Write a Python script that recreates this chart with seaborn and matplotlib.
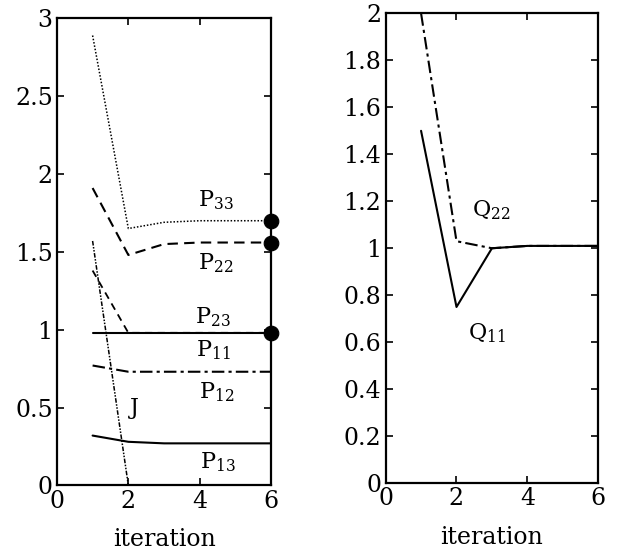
import matplotlib
matplotlib.use("Agg")
import matplotlib.pyplot as plt
import seaborn as sns
import pandas as pd

sns.set_theme(style="white")
plt.rcParams["font.family"] = ["DejaVu Serif"]
plt.rcParams["mathtext.fontset"] = "dejavuserif"
plt.rcParams["text.color"] = "black"
plt.rcParams["axes.labelcolor"] = "black"

# ---- data ----
iteration = [1, 2, 3, 4, 5, 6]
P33 = [2.89, 1.65, 1.69, 1.70, 1.70, 1.70]
P22 = [1.91, 1.48, 1.55, 1.56, 1.56, 1.56]
P23 = [1.38, 0.98, 0.98, 0.98, 0.98, 0.98]
P11 = [0.98, 0.98, 0.98, 0.98, 0.98, 0.98]
P12 = [0.77, 0.73, 0.73, 0.73, 0.73, 0.73]
P13 = [0.32, 0.28, 0.27, 0.27, 0.27, 0.27]
J = [1.57, 0.0, 0.0, 0.0, 0.0, 0.0]
Q11 = [1.50, 0.75, 1.00, 1.01, 1.01, 1.01]
Q22 = [2.00, 1.03, 1.00, 1.01, 1.01, 1.01]
final_points = [1.70, 1.56, 0.98]

left_series = {"P33": P33, "P22": P22, "P23": P23, "P11": P11,
               "P12": P12, "P13": P13, "J": J}
right_series = {"Q11": Q11, "Q22": Q22}

left_styles = {"P33": (0, (1, 1.2)), "P22": (0, (5, 3)), "P23": (0, (4, 3)),
               "P11": "-", "P12": (0, (6, 2, 1.5, 2)), "P13": "-",
               "J": (0, (3, 1, 1, 1, 1, 1))}
left_lw = {"P33": 1.1, "P22": 1.5, "P23": 1.3, "P11": 1.5, "P12": 1.5,
           "P13": 1.5, "J": 1.1}
right_styles = {"Q11": "-", "Q22": (0, (6, 2, 1.5, 2))}

fig = plt.figure(figsize=(6.18, 5.56), dpi=100)
ax1 = fig.add_axes([0.092, 0.127, 0.347, 0.840])
ax2 = fig.add_axes([0.624, 0.131, 0.344, 0.845])

for name, vals in left_series.items():
    df = pd.DataFrame({"iteration": iteration, "v": vals})
    sns.lineplot(data=df, x="iteration", y="v", ax=ax1, color="black",
                 linestyle=left_styles[name], linewidth=left_lw[name])
df_pts = pd.DataFrame({"iteration": [6] * len(final_points), "v": final_points})
sns.scatterplot(data=df_pts, x="iteration", y="v", ax=ax1, color="black",
                s=110, zorder=5, clip_on=False, edgecolor="black")

for name, vals in right_series.items():
    df = pd.DataFrame({"iteration": iteration, "v": vals})
    sns.lineplot(data=df, x="iteration", y="v", ax=ax2, color="black",
                 linestyle=right_styles[name], linewidth=1.5)

ax1.set_xlim(0, 6)
ax1.set_ylim(0, 3)
ax1.set_xticks([0, 2, 4, 6])
ax1.set_yticks([0, 0.5, 1, 1.5, 2, 2.5, 3])
ax1.set_yticklabels(["0", "0.5", "1", "1.5", "2", "2.5", "3"])

ax2.set_xlim(0, 6)
ax2.set_ylim(0, 2)
ax2.set_xticks([0, 2, 4, 6])
ax2.set_yticks([0, 0.2, 0.4, 0.6, 0.8, 1, 1.2, 1.4, 1.6, 1.8, 2])
ax2.set_yticklabels(["0", "0.2", "0.4", "0.6", "0.8", "1", "1.2", "1.4",
                     "1.6", "1.8", "2"])

for ax in (ax1, ax2):
    ax.set_xlabel("iteration", fontsize=17, labelpad=11, color="black")
    ax.set_ylabel("")
    ax.tick_params(direction="in", length=5, width=1.2, top=True, right=True,
                   bottom=True, left=True, labelsize=17, pad=3, colors="black")
    for sp in ax.spines.values():
        sp.set_visible(True)
        sp.set_color("black")
        sp.set_linewidth(1.6)
    ax.set_facecolor("white")

lab_fs = 16
kw = dict(fontsize=lab_fs, ha="center", va="center", color="black")
ax1.text(4.45, 1.83, r"$\mathrm{P}_{33}$", **kw)
ax1.text(4.45, 1.43, r"$\mathrm{P}_{22}$", **kw)
ax1.text(4.37, 1.08, r"$\mathrm{P}_{23}$", **kw)
ax1.text(4.37, 0.87, r"$\mathrm{P}_{11}$", **kw)
ax1.text(4.46, 0.60, r"$\mathrm{P}_{12}$", **kw)
ax1.text(2.18, 0.50, "J", **kw)
ax1.text(4.50, 0.15, r"$\mathrm{P}_{13}$", **kw)
ax2.text(2.99, 1.16, r"$\mathrm{Q}_{22}$", **kw)
ax2.text(2.85, 0.64, r"$\mathrm{Q}_{11}$", **kw)

fig.savefig("out.png", dpi=100, facecolor="white")
